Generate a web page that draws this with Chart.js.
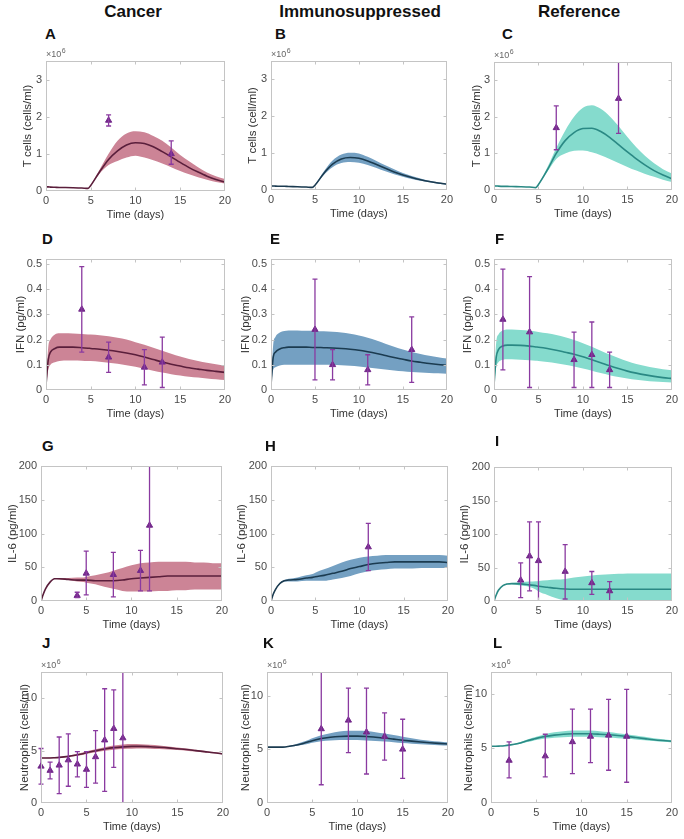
<!DOCTYPE html>
<html>
<head>
<meta charset="UTF-8">
<script src="https://cdn.jsdelivr.net/npm/chart.js"></script>
<style>
  body { margin: 0; background: #fff; width: 684px; height: 839px; position: relative; overflow: hidden;
         font-family: "Liberation Sans", Arial, sans-serif; }
  .col { position: absolute; top: 3px; font-weight: bold; font-size: 17px; line-height: 1; color: #111;
         transform: translateX(-50%); white-space: nowrap; }
  .tag { position: absolute; font-weight: bold; font-size: 15px; line-height: 1; color: #111; }
  canvas { position: absolute; }
</style>
</head>
<body>
<div class="col" style="left:133px">Cancer</div>
<div class="col" style="left:360px">Immunosuppressed</div>
<div class="col" style="left:579px">Reference</div>

<script>
// time grid shared by all model curves
const TIME = [0, 0.25, 0.5, 1, 1.5, 2, 3, 4, 4.7, 5, 6, 7, 8, 9, 10, 11, 12, 13, 14, 15, 16, 17, 18, 19, 20];
const X_TICKS = [0, 5, 10, 15, 20];

// ---- T cells (x10^6 cells/ml)
const tcCancerMean  = [.11,.11,.105,.10,.095,.093,.088,.08,.07,.15,.52,.85,1.08,1.24,1.30,1.28,1.19,1.06,.92,.77,.63,.51,.40,.31,.24];
const tcCancerUpper = [.115,.112,.108,.103,.098,.096,.09,.082,.072,.16,.58,1.00,1.35,1.55,1.61,1.58,1.48,1.35,1.17,.97,.80,.64,.50,.40,.32];
const tcCancerLower = [.105,.105,.102,.098,.093,.09,.085,.078,.068,.14,.47,.70,.81,.90,.95,.90,.83,.74,.64,.54,.45,.37,.30,.24,.20];
const tcCancerObsT  = [7, 14];
const tcCancerObs   = [1.9, 1.0];
const tcCancerObsLo = [1.75, 0.72];
const tcCancerObsHi = [2.05, 1.35];

const tcImmunoMean  = [.11,.11,.105,.10,.10,.095,.09,.08,.07,.13,.45,.70,.84,.88,.86,.79,.69,.59,.49,.41,.34,.28,.23,.19,.16];
const tcImmunoUpper = [.115,.11,.11,.105,.10,.098,.092,.082,.072,.14,.50,.80,.96,1.01,.99,.90,.79,.67,.56,.46,.38,.31,.25,.21,.17];
const tcImmunoLower = [.105,.105,.10,.098,.095,.092,.088,.078,.068,.12,.41,.62,.73,.76,.74,.68,.60,.51,.43,.36,.30,.25,.21,.17,.15];

const tcRefMean  = [.11,.11,.105,.10,.10,.095,.09,.08,.065,.15,.55,1.00,1.35,1.57,1.68,1.69,1.60,1.44,1.24,1.04,.85,.68,.53,.41,.31];
const tcRefUpper = [.12,.115,.11,.105,.10,.10,.092,.082,.068,.16,.62,1.15,1.62,2.00,2.25,2.32,2.22,2.02,1.75,1.45,1.17,.93,.73,.57,.45];
const tcRefLower = [.10,.10,.10,.095,.095,.09,.088,.078,.062,.14,.50,.85,1.00,1.07,1.08,1.03,.95,.85,.74,.63,.53,.44,.36,.28,.22];
const tcRefObsT  = [7, 14];
const tcRefObs   = [1.7, 2.5];
const tcRefObsLo = [1.1, 1.55];
const tcRefObsHi = [2.3, 3.5];

// ---- IFN (pg/ml)
const ifnCancerMean  = [.02,.12,.15,.165,.17,.17,.17,.168,.166,.165,.162,.158,.153,.147,.14,.131,.121,.111,.102,.095,.088,.083,.078,.074,.07];
const ifnCancerUpper = [.03,.17,.20,.22,.225,.225,.224,.222,.22,.22,.217,.213,.207,.20,.19,.18,.168,.156,.144,.133,.123,.115,.108,.102,.097];
const ifnCancerLower = [.015,.08,.10,.11,.115,.117,.117,.116,.115,.115,.112,.108,.104,.098,.092,.084,.076,.069,.063,.058,.053,.05,.046,.043,.04];
const ifnCancerObsT  = [4, 7, 11, 13];
const ifnCancerObs   = [.32, .13, .09, .11];
const ifnCancerObsLo = [.15, .07, .02, .01];
const ifnCancerObsHi = [.49, .19, .16, .21];

const ifnImmunoMean  = [.02,.13,.15,.163,.168,.17,.17,.17,.169,.169,.168,.167,.165,.162,.158,.152,.145,.137,.129,.122,.115,.11,.105,.101,.098];
const ifnImmunoUpper = [.03,.18,.21,.228,.234,.236,.236,.235,.235,.234,.233,.231,.228,.223,.216,.207,.196,.184,.172,.161,.151,.143,.136,.13,.125];
const ifnImmunoLower = [.015,.08,.09,.097,.10,.10,.10,.10,.10,.10,.10,.099,.098,.096,.093,.089,.085,.081,.077,.074,.071,.069,.067,.066,.065];
const ifnImmunoObsT  = [5, 7, 11, 16];
const ifnImmunoObs   = [.24, .10, .08, .16];
const ifnImmunoObsLo = [.04, .04, .02, .03];
const ifnImmunoObsHi = [.44, .16, .14, .29];

const ifnRefMean  = [.02,.13,.16,.175,.178,.178,.177,.174,.171,.17,.165,.158,.15,.142,.132,.12,.108,.096,.085,.075,.067,.06,.054,.049,.046];
const ifnRefUpper = [.03,.19,.22,.236,.24,.24,.238,.235,.232,.23,.225,.218,.209,.198,.186,.172,.156,.141,.127,.114,.103,.095,.088,.082,.078];
const ifnRefLower = [.015,.09,.11,.12,.122,.122,.12,.118,.116,.115,.111,.106,.10,.093,.085,.076,.067,.059,.052,.046,.041,.037,.034,.032,.03];
const ifnRefObsT  = [1, 4, 9, 11, 13];
const ifnRefObs   = [.28, .23, .12, .14, .08];
const ifnRefObsLo = [.08, .01, .01, .01, .01];
const ifnRefObsHi = [.48, .45, .23, .27, .15];

// ---- IL-6 (pg/ml)
const il6CancerMean  = [0,10,18,28,33,33,32,31,31,31,30,30,30,31,33,34,35,36,37,37,37,37,37,37,37];
const il6CancerUpper = [0,10,18,28,33,34,34,35,35,36,38,41,45,49,53,56,57,58,58,58,58,57,57,56,56];
const il6CancerLower = [0,10,18,28,33,32,31,29,28,27,25,21,18,15,14,14,14,15,15,16,16,17,17,17,17];
const il6CancerObsT  = [4, 5, 8, 11, 12];
const il6CancerObs   = [8, 41, 39, 45, 112];
const il6CancerObsLo = [5, 9, 6, 15, 15];
const il6CancerObsHi = [13, 74, 72, 75, 230];

const il6ImmunoMean  = [0,10,17,26,30,31,32,34,35,36,38,41,44,48,51,54,56,57,58,58,58,58,58,58,57];
const il6ImmunoUpper = [0,10,17,27,31,33,35,38,40,42,47,52,57,61,64,66,67,68,68,68,68,68,68,68,67];
const il6ImmunoLower = [0,10,17,25,29,29,29,30,30,30,30,32,34,37,41,44,46,47,48,48,48,49,49,49,49];
const il6ImmunoObsT  = [11];
const il6ImmunoObs   = [80];
const il6ImmunoObsLo = [45];
const il6ImmunoObsHi = [115];

const il6RefMean  = [0,9,16,23,25.5,26,25.5,24,23,22,20.5,19,18,17.5,17.5,17.5,17.5,17.5,17.5,17.5,17.5,17.5,17.5,17.5,17.5];
const il6RefUpper = [0,9,16,23,26,27,28,29,29.5,30,31,32,33,35,36.5,38,39,40,40.5,41,41,41,41,41,41];
const il6RefLower = [0,9,16,23,25,25,23,21,17,14,9,4,1,0,0,0,0,0,0,0,0,0,0,0,0];
const il6RefObsT  = [3, 4, 5, 8, 11, 13];
const il6RefObs   = [31, 67, 60, 44, 27, 15];
const il6RefObsLo = [5, 15, 0, 3, 10, 0];
const il6RefObsHi = [57, 118, 118, 84, 44, 29];

// ---- Neutrophils (x10^6 cells/ml)
const neuCancerMean  = [4.3,4.3,4.3,4.3,4.32,4.35,4.45,4.6,4.72,4.8,4.98,5.15,5.28,5.36,5.4,5.4,5.37,5.32,5.26,5.18,5.1,5.0,4.9,4.8,4.68];
const neuCancerUpper = [4.32,4.32,4.32,4.33,4.36,4.4,4.52,4.7,4.85,4.93,5.12,5.32,5.48,5.58,5.62,5.6,5.55,5.48,5.4,5.3,5.2,5.08,4.97,4.86,4.74];
const neuCancerLower = [4.28,4.28,4.28,4.27,4.28,4.3,4.38,4.5,4.6,4.67,4.84,4.98,5.08,5.15,5.18,5.19,5.18,5.15,5.1,5.05,4.99,4.91,4.83,4.74,4.62];
const neuCancerObsT  = [0, 1, 2, 3, 4, 5, 6, 7, 8, 9];
const neuCancerObs   = [3.5, 3.1, 3.6, 4.1, 3.7, 3.2, 4.4, 6.0, 7.1, 6.2];
const neuCancerObsLo = [1.8, 2.3, 0.9, 1.6, 2.5, 1.5, 1.9, 1.1, 3.4, 0];
const neuCancerObsHi = [5.2, 3.9, 6.3, 6.6, 4.9, 4.9, 6.9, 10.9, 10.8, 13];

const neuImmunoMean  = [5.2,5.2,5.2,5.2,5.2,5.22,5.35,5.55,5.72,5.8,6.0,6.12,6.2,6.23,6.23,6.2,6.13,6.05,5.95,5.85,5.76,5.68,5.61,5.55,5.5];
const neuImmunoUpper = [5.2,5.2,5.2,5.21,5.22,5.25,5.42,5.7,5.92,6.02,6.3,6.5,6.65,6.72,6.73,6.7,6.6,6.47,6.33,6.18,6.03,5.9,5.8,5.72,5.65];
const neuImmunoLower = [5.2,5.2,5.2,5.19,5.18,5.19,5.28,5.42,5.55,5.6,5.74,5.82,5.86,5.87,5.86,5.83,5.78,5.72,5.65,5.58,5.52,5.47,5.42,5.38,5.35];
const neuImmunoObsT  = [6, 9, 11, 13, 15];
const neuImmunoObs   = [6.9, 7.7, 6.6, 6.2, 5.0];
const neuImmunoObsLo = [1.7, 4.7, 2.7, 4.0, 2.3];
const neuImmunoObsHi = [12.3, 10.7, 10.7, 8.4, 7.8];

const neuRefMean  = [5.2,5.2,5.2,5.22,5.25,5.3,5.45,5.7,5.85,5.92,6.1,6.22,6.3,6.34,6.35,6.34,6.3,6.25,6.18,6.1,6.0,5.9,5.8,5.72,5.65];
const neuRefUpper = [5.2,5.2,5.2,5.23,5.27,5.33,5.52,5.82,6.0,6.08,6.3,6.47,6.58,6.63,6.65,6.63,6.58,6.5,6.4,6.3,6.18,6.06,5.94,5.84,5.75];
const neuRefLower = [5.2,5.2,5.2,5.21,5.23,5.27,5.38,5.58,5.7,5.76,5.9,5.98,6.03,6.06,6.07,6.06,6.03,5.99,5.94,5.89,5.82,5.74,5.67,5.6,5.55];
const neuRefObsT  = [2, 6, 9, 11, 13, 15];
const neuRefObs   = [3.9, 4.3, 5.6, 6.1, 6.2, 6.1];
const neuRefObsLo = [2.3, 2.4, 2.7, 3.7, 3.0, 1.9];
const neuRefObsHi = [5.6, 6.3, 8.6, 8.6, 9.5, 10.4];

// colours per group
const PURPLE = '#72288a';
const BAR_PURPLE = '#8a3aa0';
const GROUPS = {
  cancer: { band: 'rgb(204,132,150)', line: '#5a1e3b' },
  immuno: { band: 'rgb(116,160,194)', line: '#1b3b50' },
  ref:    { band: 'rgb(133,219,205)', line: '#2a8984' }
};

// panel table: letter, geometry of plot area, axis, data refs
const panels = [
  { tag:'A', tx:45,  ty:26,  x:46,  y:61,  w:180, h:130, g:'cancer', ymax:3.5,  step:1,   exp:true,  yt:'T cells (cells/ml)', yOff:18,
    mean:tcCancerMean, up:tcCancerUpper, lo:tcCancerLower, ot:tcCancerObsT, ov:tcCancerObs, ol:tcCancerObsLo, oh:tcCancerObsHi },
  { tag:'B', tx:275, ty:26,  x:271, y:61,  w:177, h:129, g:'immuno', ymax:3.5,  step:1,   exp:true,  yt:'T cells (cell/ml)', yOff:18,
    mean:tcImmunoMean, up:tcImmunoUpper, lo:tcImmunoLower, ot:[], ov:[], ol:[], oh:[] },
  { tag:'C', tx:502, ty:26,  x:494, y:62,  w:179, h:128, g:'ref',    ymax:3.5,  step:1,   exp:true,  yt:'T cells (cells/ml)', yOff:17,
    mean:tcRefMean, up:tcRefUpper, lo:tcRefLower, ot:tcRefObsT, ov:tcRefObs, ol:tcRefObsLo, oh:tcRefObsHi },
  { tag:'D', tx:42,  ty:231, x:46,  y:259, w:180, h:131, g:'cancer', ymax:0.52, step:0.1, exp:false, yt:'IFN (pg/ml)', yOff:25,
    mean:ifnCancerMean, up:ifnCancerUpper, lo:ifnCancerLower, ot:ifnCancerObsT, ov:ifnCancerObs, ol:ifnCancerObsLo, oh:ifnCancerObsHi },
  { tag:'E', tx:270, ty:231, x:271, y:259, w:177, h:131, g:'immuno', ymax:0.52, step:0.1, exp:false, yt:'IFN (pg/ml)', yOff:25,
    mean:ifnImmunoMean, up:ifnImmunoUpper, lo:ifnImmunoLower, ot:ifnImmunoObsT, ov:ifnImmunoObs, ol:ifnImmunoObsLo, oh:ifnImmunoObsHi },
  { tag:'F', tx:495, ty:231, x:494, y:259, w:179, h:131, g:'ref',    ymax:0.52, step:0.1, exp:false, yt:'IFN (pg/ml)', yOff:26,
    mean:ifnRefMean, up:ifnRefUpper, lo:ifnRefLower, ot:ifnRefObsT, ov:ifnRefObs, ol:ifnRefObsLo, oh:ifnRefObsHi },
  { tag:'G', tx:42,  ty:438, x:41,  y:466, w:182, h:135, g:'cancer', ymax:200,  step:50,  exp:false, yt:'IL-6 (pg/ml)', yOff:28,
    mean:il6CancerMean, up:il6CancerUpper, lo:il6CancerLower, ot:il6CancerObsT, ov:il6CancerObs, ol:il6CancerObsLo, oh:il6CancerObsHi },
  { tag:'H', tx:265, ty:438, x:271, y:466, w:178, h:135, g:'immuno', ymax:200,  step:50,  exp:false, yt:'IL-6 (pg/ml)', yOff:29,
    mean:il6ImmunoMean, up:il6ImmunoUpper, lo:il6ImmunoLower, ot:il6ImmunoObsT, ov:il6ImmunoObs, ol:il6ImmunoObsLo, oh:il6ImmunoObsHi },
  { tag:'I', tx:495, ty:433, x:494, y:467, w:179, h:134, g:'ref',    ymax:200,  step:50,  exp:false, yt:'IL-6 (pg/ml)', yOff:29,
    mean:il6RefMean, up:il6RefUpper, lo:il6RefLower, ot:il6RefObsT, ov:il6RefObs, ol:il6RefObsLo, oh:il6RefObsHi },
  { tag:'J', tx:42,  ty:635, x:41,  y:672, w:183, h:131, g:'cancer', ymax:12.5, step:5,   exp:true,  yt:'Neutrophils (cells/ml)', yOff:16,
    mean:neuCancerMean, up:neuCancerUpper, lo:neuCancerLower, ot:neuCancerObsT, ov:neuCancerObs, ol:neuCancerObsLo, oh:neuCancerObsHi },
  { tag:'K', tx:263, ty:635, x:267, y:672, w:182, h:131, g:'immuno', ymax:12.2, step:5,   exp:true,  yt:'Neutrophils (cells/ml)', yOff:21,
    mean:neuImmunoMean, up:neuImmunoUpper, lo:neuImmunoLower, ot:neuImmunoObsT, ov:neuImmunoObs, ol:neuImmunoObsLo, oh:neuImmunoObsHi },
  { tag:'L', tx:493, ty:635, x:491, y:672, w:182, h:131, g:'ref',    ymax:12.0, step:5,   exp:true,  yt:'Neutrophils (cells/ml)', yOff:22,
    mean:neuRefMean, up:neuRefUpper, lo:neuRefLower, ot:neuRefObsT, ov:neuRefObs, ol:neuRefObsLo, oh:neuRefObsHi }
];

const FONT = '"Liberation Sans", Arial, sans-serif';
const Y_AXIS_W = 40, X_AXIS_H = 31, PAD_TOP = 14, PAD_RIGHT = 8;
const Y_TITLE_SIZE = 11.5;

// MATLAB-ish box, inward ticks, error bars and the x10^6 note
function framePlugin(p) {
  return {
    id: 'frame',
    afterDatasetsDraw(chart) {
      const { ctx, chartArea: a, scales: { x, y } } = chart;

      // error bars, clipped top/bottom only
      ctx.save();
      ctx.beginPath();
      ctx.rect(a.left - 5, a.top, a.right - a.left + 10, a.bottom - a.top);
      ctx.clip();
      ctx.strokeStyle = BAR_PURPLE;
      ctx.lineWidth = 1.3;
      p.ot.forEach((t, i) => {
        const px = x.getPixelForValue(t);
        const lo = y.getPixelForValue(p.ol[i]);
        const hi = y.getPixelForValue(p.oh[i]);
        ctx.beginPath();
        ctx.moveTo(px, lo); ctx.lineTo(px, hi);
        ctx.moveTo(px - 2.5, lo); ctx.lineTo(px + 2.5, lo);
        ctx.moveTo(px - 2.5, hi); ctx.lineTo(px + 2.5, hi);
        ctx.stroke();
      });
      ctx.restore();

      ctx.save();
      ctx.strokeStyle = '#c4c4c4';
      ctx.lineWidth = 1;
      const L = Math.round(a.left) + 0.5, R = Math.round(a.right) - 0.5;
      const T = Math.round(a.top) + 0.5, B = Math.round(a.bottom) - 0.5;
      ctx.strokeRect(L, T, R - L, B - T);
      ctx.beginPath();
      x.ticks.forEach(tk => {
        if (tk.value <= x.min || tk.value >= x.max) return;
        const px = Math.round(x.getPixelForValue(tk.value)) + 0.5;
        ctx.moveTo(px, B); ctx.lineTo(px, B - 3);
        ctx.moveTo(px, T); ctx.lineTo(px, T + 3);
      });
      y.ticks.forEach(tk => {
        if (tk.value <= y.min || tk.value >= y.max) return;
        const py = Math.round(y.getPixelForValue(tk.value)) + 0.5;
        ctx.moveTo(L, py); ctx.lineTo(L + 3, py);
        ctx.moveTo(R, py); ctx.lineTo(R - 3, py);
      });
      ctx.stroke();

      if (p.exp) {
        ctx.fillStyle = '#666';
        ctx.textBaseline = 'alphabetic';
        ctx.font = '9px ' + FONT;
        ctx.fillText('\u00d710', a.left, a.top - 4);
        const w = ctx.measureText('\u00d710').width;
        ctx.font = '7px ' + FONT;
        ctx.fillText('6', a.left + w + 0.5, a.top - 8);
      }
      ctx.restore();
    }
  };
}

function pts(xs, ys) {
  return xs.map((t, i) => ({ x: t, y: ys[i] }));
}

panels.forEach(p => {
  const tag = document.createElement('div');
  tag.className = 'tag';
  tag.style.left = p.tx + 'px';
  tag.style.top = p.ty + 'px';
  tag.textContent = p.tag;
  document.body.appendChild(tag);

  const cv = document.createElement('canvas');
  cv.width = p.w + Y_AXIS_W + PAD_RIGHT;
  cv.height = p.h + PAD_TOP + X_AXIS_H;
  cv.style.left = (p.x - Y_AXIS_W) + 'px';
  cv.style.top = (p.y - PAD_TOP) + 'px';
  document.body.appendChild(cv);

  const col = GROUPS[p.g];
  new Chart(cv, {
    type: 'line',
    data: {
      datasets: [
        { data: pts(TIME, p.lo), borderColor: 'rgba(0,0,0,0)', borderWidth: 0, pointRadius: 0,
          fill: false, backgroundColor: col.band, cubicInterpolationMode: 'monotone', order: 4 },
        { data: pts(TIME, p.up), borderColor: 'rgba(0,0,0,0)', borderWidth: 0, pointRadius: 0,
          fill: '-1', backgroundColor: col.band, cubicInterpolationMode: 'monotone', order: 3 },
        { data: pts(TIME, p.mean), borderColor: col.line, borderWidth: 1.6, pointRadius: 0,
          fill: false, cubicInterpolationMode: 'monotone', order: 2 },
        { type: 'scatter', data: pts(p.ot, p.ov), pointStyle: 'triangle', pointRadius: 3.6,
          backgroundColor: PURPLE, borderColor: PURPLE, borderWidth: 1, order: 1, clip: false }
      ]
    },
    options: {
      responsive: false,
      animation: false,
      events: [],
      layout: { padding: { top: PAD_TOP, right: PAD_RIGHT, left: 0, bottom: 0 } },
      plugins: { legend: { display: false }, tooltip: { enabled: false } },
      scales: {
        x: {
          type: 'linear', min: 0, max: 20,
          afterFit: s => { s.height = X_AXIS_H; },
          afterBuildTicks: s => { s.ticks = X_TICKS.map(v => ({ value: v })); },
          grid: { display: false, drawTicks: false },
          border: { display: false },
          ticks: { color: '#4a4a4a', font: { family: FONT, size: 11 }, padding: 3, maxRotation: 0 },
          title: { display: true, text: 'Time (days)', color: '#333', font: { family: FONT, size: 11 }, padding: 0 }
        },
        y: {
          type: 'linear', min: 0, max: p.ymax,
          afterFit: s => { s.width = Y_AXIS_W; },
          grid: { display: false, drawTicks: false },
          border: { display: false },
          ticks: { stepSize: p.step, includeBounds: false, color: '#4a4a4a',
                   font: { family: FONT, size: 11 }, padding: 4 },
          title: { display: true, text: p.yt, color: '#333', font: { family: FONT, size: Y_TITLE_SIZE },
                   padding: { top: Y_AXIS_W - p.yOff - Y_TITLE_SIZE * 0.6, bottom: 0 } }
        }
      }
    },
    plugins: [framePlugin(p)]
  });
});
</script>
</body>
</html>
